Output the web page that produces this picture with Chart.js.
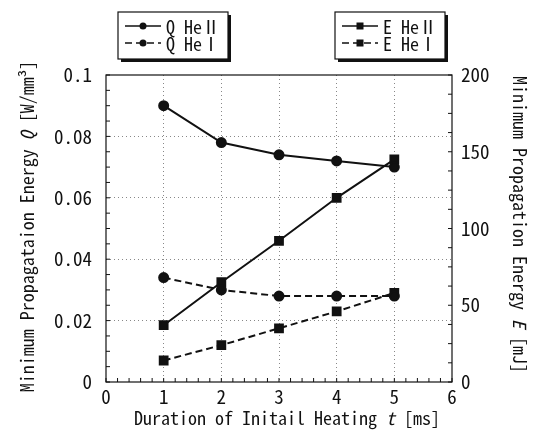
<!DOCTYPE html>
<html>
<head>
<meta charset="utf-8">
<script src="https://cdn.jsdelivr.net/npm/chart.js@4"></script>
<style>
  html, body { margin: 0; padding: 0; background: #fff; }
  #wrap { width: 534px; height: 436px; }
</style>
</head>
<body>
<div id="wrap"><canvas id="c" width="534" height="436"></canvas></div>
<script>
// data
const durations = [1, 2, 3, 4, 5];
const qHeII = [0.090, 0.078, 0.074, 0.072, 0.070];
const qHeI  = [0.034, 0.030, 0.028, 0.028, 0.028];
const eHeII = [37, 65, 92, 120, 145];
const eHeI  = [14, 24, 35, 46, 58];

const seriesLabels = ['Q He\u2161', 'Q He\u2160', 'E He\u2161', 'E He\u2160'];
// title pieces: [text, italic]
const xTitle = [['Duration of Initail Heating ', false], ['t', true], [' [ms]', false]];
const yTitle = [['Minimum Propagataion Energy ', false], ['Q', true], [' [W/mm\u00b3]', false]];
const y2Title = [['Minimum Propagation Energy ', false], ['E', true], [' [mJ]', false]];

const FONT = "'Noto Sans Mono CJK JP', 'DejaVu Sans Mono', monospace";
const INK = '#111';

function pts(ys) { return durations.map((x, i) => ({ x, y: ys[i] })); }

// inward minor ticks + frame around the plot
const frameTicks = {
  id: 'frameTicks',
  afterDatasetsDraw(chart) {
    const { ctx, chartArea: a, scales } = chart;
    ctx.save();
    ctx.strokeStyle = INK;
    ctx.lineWidth = 1.2;
    ctx.strokeRect(a.left, a.top, a.right - a.left, a.bottom - a.top);
    ctx.lineWidth = 1;
    ctx.beginPath();
    for (let v = 0; v <= 0.1 + 1e-9; v += 0.005) {
      const y = scales.y.getPixelForValue(v);
      ctx.moveTo(a.left, y); ctx.lineTo(a.left + 4, y);
    }
    for (let v = 0; v <= 200 + 1e-9; v += 12.5) {
      const y = scales.y2.getPixelForValue(v);
      ctx.moveTo(a.right, y); ctx.lineTo(a.right - 4, y);
    }
    for (let v = 0; v <= 6 + 1e-9; v += 0.2) {
      const x = scales.x.getPixelForValue(v);
      ctx.moveTo(x, a.bottom); ctx.lineTo(x, a.bottom - 4);
    }
    ctx.stroke();
    ctx.restore();
  }
};

// axis titles with an italic symbol letter
function drawPieces(ctx, pieces, cx, cy, rot) {
  const fontFor = it => (it ? 'italic ' : '') + '18px ' + FONT;
  let total = 0;
  pieces.forEach(([t, it]) => { ctx.font = fontFor(it); total += ctx.measureText(t).width; });
  ctx.save();
  ctx.translate(cx, cy);
  ctx.rotate(rot);
  ctx.fillStyle = INK;
  ctx.textBaseline = 'middle';
  ctx.textAlign = 'left';
  let x = -total / 2;
  pieces.forEach(([t, it]) => {
    ctx.font = fontFor(it);
    ctx.fillText(t, x, 0);
    x += ctx.measureText(t).width;
  });
  ctx.restore();
}

const axisTitles = {
  id: 'axisTitles',
  afterDraw(chart) {
    const { ctx, chartArea: a } = chart;
    const midX = (a.left + a.right) / 2;
    const midY = (a.top + a.bottom) / 2;
    drawPieces(ctx, xTitle, midX + 8, 418, 0);
    drawPieces(ctx, yTitle, 27, midY - 2, -Math.PI / 2);
    drawPieces(ctx, y2Title, 520, midY - 4, Math.PI / 2);
  }
};

// the two boxed legends at the top
const boxLegends = {
  id: 'boxLegends',
  afterDraw(chart) {
    const { ctx } = chart;
    const groups = [
      { box: [118, 12, 110, 47], line: [125, 161], text: 166, sets: [0, 1] },
      { box: [335, 12, 110, 47], line: [342, 378], text: 383, sets: [2, 3] }
    ];
    ctx.save();
    groups.forEach(g => {
      const [bx, by, bw, bh] = g.box;
      ctx.fillStyle = INK;
      ctx.fillRect(bx + 3, by + 3, bw, bh);
      ctx.fillStyle = '#fff';
      ctx.fillRect(bx, by, bw, bh);
      ctx.strokeStyle = INK;
      ctx.lineWidth = 1.2;
      ctx.strokeRect(bx, by, bw, bh);
      g.sets.forEach((di, row) => {
        const ds = chart.data.datasets[di];
        const y = by + 14 + row * 17;
        ctx.strokeStyle = ds.borderColor;
        ctx.lineWidth = 1.5;
        ctx.setLineDash(ds.borderDash || []);
        ctx.beginPath();
        ctx.moveTo(g.line[0], y); ctx.lineTo(g.line[1], y);
        ctx.stroke();
        ctx.setLineDash([]);
        const cx = (g.line[0] + g.line[1]) / 2;
        ctx.fillStyle = ds.pointBackgroundColor;
        if (ds.pointStyle === 'rect') ctx.fillRect(cx - 3.5, y - 3.5, 7, 7);
        else { ctx.beginPath(); ctx.arc(cx, y, 3.5, 0, Math.PI * 2); ctx.fill(); }
        ctx.fillStyle = INK;
        ctx.font = '18px ' + FONT;
        ctx.textBaseline = 'middle';
        ctx.fillText(ds.label, g.text, y + 1);
      });
    });
    ctx.restore();
  }
};

function lineSet(label, data, axis, dashed, shape) {
  return {
    label, data, yAxisID: axis,
    borderColor: INK, backgroundColor: INK,
    pointBackgroundColor: INK, pointBorderColor: INK,
    borderWidth: 2,
    borderDash: dashed ? [7, 4] : [],
    pointStyle: shape,
    pointRadius: shape === 'rect' ? 5.5 : 4.5,
    tension: 0
  };
}

const gridDash = { display: false, dash: [1, 3] };
const tickFont = { family: FONT, size: 19 };

new Chart(document.getElementById('c'), {
  type: 'line',
  data: {
    datasets: [
      lineSet(seriesLabels[0], pts(qHeII), 'y', false, 'circle'),
      lineSet(seriesLabels[1], pts(qHeI), 'y', true, 'circle'),
      lineSet(seriesLabels[2], pts(eHeII), 'y2', false, 'rect'),
      lineSet(seriesLabels[3], pts(eHeI), 'y2', true, 'rect')
    ]
  },
  options: {
    responsive: false,
    animation: false,
    layout: { padding: { top: 75, left: 0, right: 0, bottom: 0 } },
    plugins: { legend: { display: false }, tooltip: { enabled: false } },
    scales: {
      x: {
        type: 'linear', min: 0, max: 6,
        ticks: { stepSize: 1, color: INK, font: tickFont, padding: 3 },
        grid: {
          drawTicks: false,
          color: ctx => (ctx.tick.value > 0 && ctx.tick.value < 6) ? '#888' : 'rgba(0,0,0,0)'
        },
        border: gridDash,
        afterFit: s => { s.height = 54; }
      },
      y: {
        position: 'left', min: 0, max: 0.1,
        ticks: {
          stepSize: 0.02, color: INK, font: tickFont, padding: 14,
          callback: v => String(Number(v.toFixed(2)))
        },
        grid: {
          drawTicks: false,
          color: ctx => (ctx.tick.value > 0 && ctx.tick.value < 0.1) ? '#888' : 'rgba(0,0,0,0)'
        },
        border: gridDash,
        afterFit: s => { s.width = 106; }
      },
      y2: {
        position: 'right', min: 0, max: 200,
        ticks: { stepSize: 50, color: INK, font: tickFont, padding: 9 },
        grid: { display: false, drawTicks: false },
        border: { display: false },
        afterFit: s => { s.width = 82; }
      }
    }
  },
  plugins: [frameTicks, axisTitles, boxLegends]
});
</script>
</body>
</html>
